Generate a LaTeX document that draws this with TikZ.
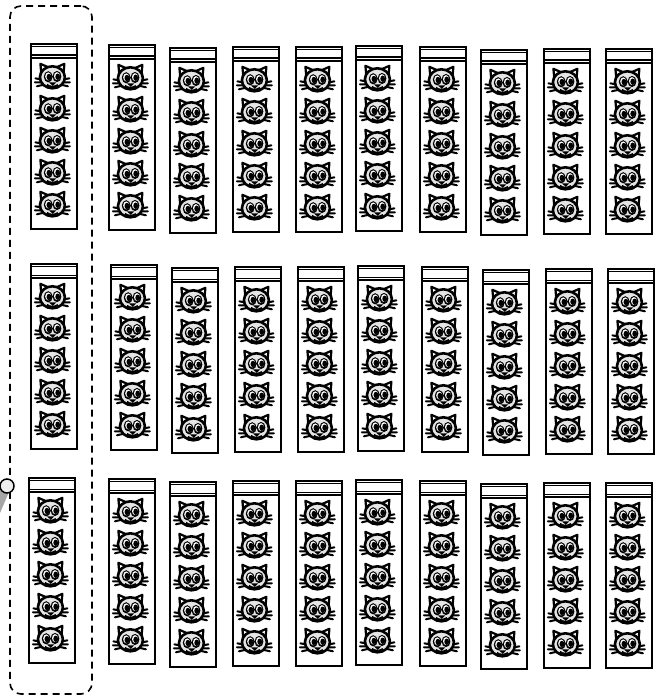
\documentclass[tikz,border=0pt]{standalone}
\usetikzlibrary{positioning}
\definecolor{Lamp}{HTML}{EEEEEE}
\definecolor{Beam}{HTML}{A6A6A6}
\tikzset{
  rack/.style={draw,line width=1.8pt,minimum width=46pt,minimum height=185pt,anchor=north west,inner sep=0pt},
  header/.style={draw,line width=1.8pt,minimum width=46pt,minimum height=11.5pt,anchor=north,inner sep=0pt,
    postaction={draw,line width=1.3pt,transform canvas={yshift=-2.5pt}}},
  cat/.style={minimum width=33pt,minimum height=31.6pt,inner sep=0pt},
  group/.style={draw,dashed,dash pattern=on 7pt off 5pt,line width=1.6pt,rounded corners=11pt,
    minimum width=82pt,minimum height=688pt,inner sep=0pt},
  catface/.pic={
    \draw[line width=2.2pt,fill=white,line join=round] (-11,-2) -- (-12,-13) -- (-3,-9)
      -- (3,-9) -- (12,-13) -- (11,-2) -- cycle;
    \draw[line width=2pt,line cap=round] (-10,3) -- (-17,1.5) (-10,5.5) -- (-17.5,5.5) (-9,8) -- (-15.5,9.5)
      (10,3) -- (17,1.5) (10,5.5) -- (17.5,5.5) (9,8) -- (15.5,9.5);
    \draw[line width=2.6pt,fill=white!90!black] (0,0.5) ellipse (12.5pt and 11pt);
    \fill (-4.2,0) ellipse (4.4pt and 5.6pt) (4.6,-0.3) ellipse (4.4pt and 5.6pt);
    \fill[white] (-4.2,-0.4) ellipse (3pt and 4pt) (4.6,-0.7) ellipse (3pt and 4pt);
    \fill (-3.5,0.2) ellipse (2.4pt and 3.2pt) (5.3,-0.1) ellipse (2.4pt and 3.2pt);
    \fill (-3.5,5.5) -- (4,5.5) -- (0.3,9) -- cycle;
    \draw[line width=1.8pt] (-5.5,8) .. controls (-2,10.5) and (2,10.5) .. (5.5,8);
  }
}
% one rack: name, left, top
\newcommand{\rackcol}[3]{
  \node[rack] (#1) at (#2,#3) {};
  \node[header] (#1h) at (#1.north) {};
  \node[cat,below=4.5pt of #1h,xshift=-1.5pt] (#1a) {};
  \node[cat,below=0pt of #1a] (#1b) {};
  \node[cat,below=0pt of #1b] (#1c) {};
  \node[cat,below=0pt of #1c] (#1d) {};
  \node[cat,below=0pt of #1d] (#1e) {};
  \foreach \k in {a,b,c,d,e}
    \pic at (#1\k) {catface};
}
\begin{document}
\begin{tikzpicture}[x=1pt,y=-1pt]
  \useasboundingbox (0,0) rectangle (656,700);
  % first column sits apart
  \rackcol{ra}{30}{43}
  \rackcol{rb}{30}{263}
  \rackcol{rc}{28}{477}
  \foreach \c/\x/\y in {1/108/44,2/169/47,3/232/46,4/295/46,5/355/45,6/419/46,7/480/49,8/543/48,9/605/48}{
    \rackcol{a\c}{\x}{\y}
    \rackcol{b\c}{\x+2}{\y+220}
    \rackcol{c\c}{\x}{\y+434}
  }
  \node[group] (grp) at (51,350) {};
  \coordinate (beamA) at (0,513);
  \coordinate (beamB) at (0,488);
  \coordinate (beamC) at (9,492);
  \fill[Beam] (beamA) -- (beamB) -- (beamC) -- cycle;
  \node[circle,draw,fill=Lamp,line width=1.5pt,minimum size=14pt,inner sep=0pt] (lamp) at (7,486) {};
\end{tikzpicture}
\end{document}
